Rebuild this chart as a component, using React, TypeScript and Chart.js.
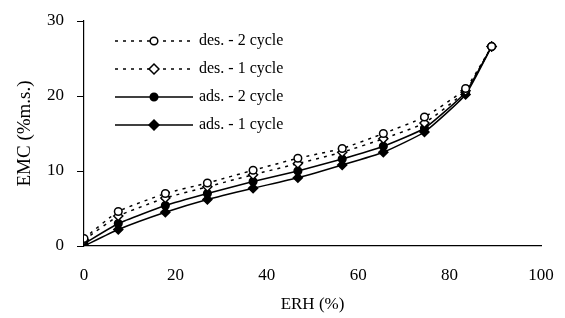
import React, { useEffect, useRef } from "react";
import { Chart, registerables } from "chart.js";

Chart.register(...registerables);

const erh = [0, 7.5, 17.8, 27, 37, 46.8, 56.5, 65.5, 74.5, 83.5, 89.2];
const des2 = [1.0, 4.6, 7.0, 8.4, 10.1, 11.7, 13.0, 15.0, 17.2, 21.0, 26.6];
const des1 = [0.8, 4.0, 6.4, 7.9, 9.5, 11.0, 12.5, 14.3, 16.4, 20.7, 26.6];
const ads2 = [0.3, 3.0, 5.4, 7.0, 8.6, 10.0, 11.6, 13.3, 15.7, 20.5, 26.6];
const ads1 = [0.0, 2.2, 4.5, 6.2, 7.7, 9.1, 10.8, 12.5, 15.2, 20.2, 26.6];

const seriesLabels = ["des. - 2 cycle", "des. - 1 cycle", "ads. - 2 cycle", "ads. - 1 cycle"];
const xTicks = [0, 20, 40, 60, 80, 100];
const yTicks = [0, 10, 20, 30];

const FONT = "'Liberation Serif', 'DejaVu Serif', serif";

function drawMarker(ctx: CanvasRenderingContext2D, style: string, x: number, y: number, r: number, fill: string) {
  ctx.beginPath();
  if (style === "circle") {
    ctx.arc(x, y, r, 0, Math.PI * 2);
  } else {
    const d = r * 1.3;
    ctx.moveTo(x, y - d);
    ctx.lineTo(x + d, y);
    ctx.lineTo(x, y + d);
    ctx.lineTo(x - d, y);
    ctx.closePath();
  }
  ctx.fillStyle = fill;
  ctx.fill();
  ctx.setLineDash([]);
  ctx.lineWidth = 1.5;
  ctx.strokeStyle = "#000";
  ctx.stroke();
}

const legendPlugin = {
  id: "customLegend",
  afterDraw(chart: any) {
    const ctx = chart.ctx as CanvasRenderingContext2D;
    const rows = [41, 69, 97, 125];
    ctx.save();
    chart.data.datasets.forEach((ds: any, i: number) => {
      const y = rows[i];
      ctx.beginPath();
      ctx.setLineDash(ds.borderDash || []);
      ctx.lineWidth = ds.borderWidth;
      ctx.strokeStyle = "#000";
      ctx.moveTo(115, y);
      ctx.lineTo(193, y);
      ctx.stroke();
      drawMarker(ctx, ds.pointStyle, 154, y, 3.8, ds.pointBackgroundColor);
      ctx.fillStyle = "#000";
      ctx.font = `16px ${FONT}`;
      ctx.textBaseline = "middle";
      ctx.textAlign = "left";
      ctx.fillText(ds.label, 199, y);
    });
    ctx.restore();
  },
};

export default function App() {
  const ref = useRef<HTMLCanvasElement>(null);
  useEffect(() => {
    if (!ref.current) return;
    const mk = (vals: number[]) => vals.map((v, i) => ({ x: erh[i], y: v }));
    const common = {
      borderColor: "#000",
      borderWidth: 1.5,
      pointBorderColor: "#000",
      pointBorderWidth: 1.5,
      tension: 0.15,
    };
    const chart = new Chart(ref.current, {
      type: "line",
      data: {
        datasets: [
          {
            ...common,
            label: seriesLabels[0],
            data: mk(des2),
            borderDash: [3, 5],
            pointStyle: "circle",
            pointRadius: 3.8,
            pointBackgroundColor: "#fff",
          },
          {
            ...common,
            label: seriesLabels[1],
            data: mk(des1),
            borderDash: [3, 5],
            pointStyle: "rectRot",
            pointRadius: 4.5,
            pointBackgroundColor: "#fff",
          },
          {
            ...common,
            label: seriesLabels[2],
            data: mk(ads2),
            pointStyle: "circle",
            pointRadius: 3.8,
            pointBackgroundColor: "#000",
          },
          {
            ...common,
            label: seriesLabels[3],
            data: mk(ads1),
            pointStyle: "rectRot",
            pointRadius: 4.5,
            pointBackgroundColor: "#000",
          },
        ],
      },
      options: {
        animation: false,
        responsive: false,
        maintainAspectRatio: false,
        layout: { padding: { top: 21, right: 24, left: 0, bottom: 0 } },
        plugins: { legend: { display: false }, tooltip: { enabled: false } },
        scales: {
          x: {
            type: "linear",
            min: 0,
            max: 100,
            afterBuildTicks: (s: any) => {
              s.ticks = xTicks.map((v) => ({ value: v }));
            },
            afterFit: (s: any) => {
              s.height = 318 - 246;
              s.paddingLeft = 0;
              s.paddingRight = 0;
            },
            border: { display: true, color: "#000", width: 1.2 },
            grid: { display: false, drawTicks: false },
            ticks: {
              color: "#000",
              padding: 19,
              font: { family: FONT, size: 17 },
              maxRotation: 0,
            },
            title: {
              display: true,
              text: "ERH (%)",
              color: "#000",
              font: { family: FONT, size: 17 },
              padding: { top: 2, bottom: 3 },
            },
          },
          y: {
            type: "linear",
            min: 0,
            max: 30,
            afterBuildTicks: (s: any) => {
              s.ticks = yTicks.map((v) => ({ value: v }));
            },
            afterFit: (s: any) => {
              s.width = 84;
              s.paddingTop = 0;
              s.paddingBottom = 0;
            },
            border: { display: true, color: "#000", width: 1.2 },
            grid: {
              display: true,
              drawOnChartArea: false,
              drawTicks: true,
              tickLength: 7,
              color: "#000",
              lineWidth: 1,
            },
            ticks: {
              color: "#000",
              padding: 13,
              font: { family: FONT, size: 17 },
            },
            title: {
              display: true,
              text: "EMC (%m.s.)",
              color: "#000",
              font: { family: FONT, size: 19 },
              padding: { top: 14, bottom: 0 },
            },
          },
        },
      },
      plugins: [legendPlugin],
    } as any);
    return () => chart.destroy();
  }, []);
  return (
    <div style={{ position: "fixed", left: 0, top: 0, width: 565, height: 318, background: "#fff" }}>
      <canvas ref={ref} width={565} height={318} style={{ width: 565, height: 318 }} />
    </div>
  );
}
